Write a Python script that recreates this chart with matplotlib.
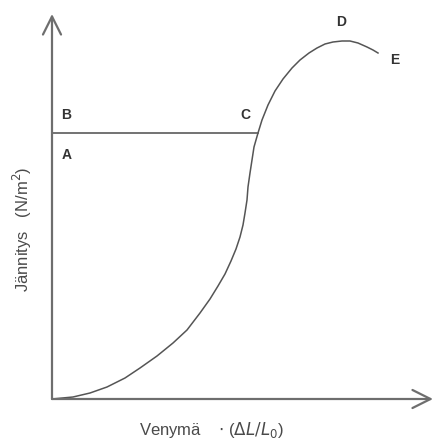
import matplotlib.pyplot as plt

# stress-strain curve (x = strain, y = stress, arbitrary units)
strain = [0, 21, 38, 55, 73, 88, 105, 121, 135, 148, 158, 166, 173, 179, 184, 188,
          191, 193, 195, 196, 198, 200, 202, 206, 210, 216, 223, 231, 240, 248,
          257, 265, 273, 281, 290, 298, 306, 315, 321, 326]
stress = [0, 2, 6, 12, 21, 31, 43, 56, 69, 86, 100, 113, 125, 138, 150, 162,
          174, 186, 199, 212, 226, 239, 252, 266, 279, 294, 308, 320, 331, 339,
          346, 351, 355, 357, 358, 358, 356, 352, 349, 346]

yield_level = 266
yield_end = 206

labels = ["A", "B", "C", "D", "E"]
label_x = [15, 14, 193, 289, 343]
label_y = [244, 284, 284, 377, 339]

fig = plt.figure(figsize=(4.36, 4.41), dpi=100)
ax = fig.add_axes([52 / 436, 42 / 441, 381 / 436, 385 / 441])
ax.set_xlim(0, 381)
ax.set_ylim(0, 385)
ax.axis("off")

axis_col = "#6e6e6e"
head = "->,head_length=1.3,head_width=0.65"
ax.annotate("", xy=(381, 0), xytext=(0, 0),
            arrowprops=dict(arrowstyle=head, color=axis_col, lw=1.6,
                            shrinkA=0, shrinkB=0),
            annotation_clip=False)
ax.annotate("", xy=(0, 385), xytext=(0, 0),
            arrowprops=dict(arrowstyle=head, color=axis_col, lw=1.6,
                            shrinkA=0, shrinkB=0),
            annotation_clip=False)

ax.plot(strain, stress, color="#555555", lw=1.1, solid_joinstyle="round")
ax.plot([1, yield_end], [yield_level, yield_level], color="#5a5a5a", lw=1.2)

for t, x, y in zip(labels, label_x, label_y):
    ax.text(x, y, t, fontsize=10, fontweight="bold", color="#333333",
            family="Liberation Sans", ha="center", va="center")

fig.text(22 / 436, 1 - 229 / 441, r"Jännitys   (N/m$^2$)", rotation=90,
         fontsize=12, color="#4a4a4a", family="Liberation Sans",
         ha="center", va="center")
fig.text(211 / 436, 1 - 430 / 441, r"Venymä    $\cdot$ ($\Delta L / L_0$)",
         fontsize=12, color="#4a4a4a", family="Liberation Sans",
         ha="center", va="center")

fig.savefig("out.png", dpi=100)
